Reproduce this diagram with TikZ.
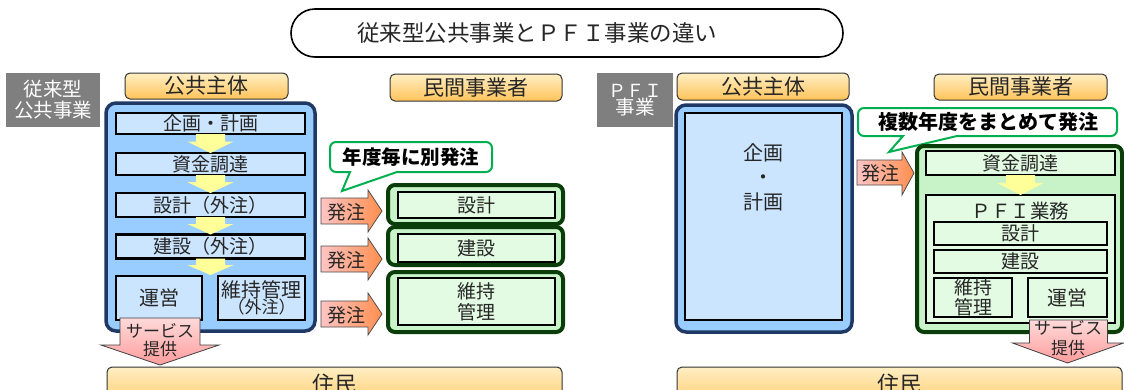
\documentclass[tikz,border=0pt]{standalone}
\usepackage{fontspec}
\setmainfont{Noto Sans CJK JP}
\usetikzlibrary{calc}
\definecolor{navy}{HTML}{1F3864}
\definecolor{bluefill}{HTML}{99CCFF}
\definecolor{boxblue}{HTML}{CCE5FF}
\definecolor{dkgreen}{HTML}{0B3D0B}
\definecolor{grfill}{HTML}{C8F2C8}
\definecolor{boxgreen}{HTML}{E3FBE3}
\definecolor{hdtop}{HTML}{FFEFC4}
\definecolor{hdbot}{HTML}{FFC35A}
\definecolor{graylab}{HTML}{7F7F7F}
\definecolor{callgreen}{HTML}{00B050}
\definecolor{arrowyel}{HTML}{FFFF99}
\definecolor{ordleft}{HTML}{FFC4C4}
\definecolor{ordright}{HTML}{FF8F4F}
\definecolor{svctop}{HTML}{FFDADA}
\definecolor{svcbot}{HTML}{FF9C9C}
\newcommand\fsz[2]{\fontsize{#1}{#2}\selectfont}
\tikzset{
  every node/.style={inner sep=0pt, outer sep=0pt, text=black!85},
  titlebox/.style={draw=black, line width=1.6pt, fill=white, rounded corners=24pt},
  hdrbox/.style={draw=black!80, line width=1pt, rounded corners=5pt, top color=hdtop, bottom color=hdbot},
  graybox/.style={fill=graylab, text=white, align=center},
  bluecont/.style={draw=navy, line width=3.5pt, fill=bluefill, rounded corners=10pt},
  bluebox/.style={draw=black, line width=2.2pt, fill=boxblue},
  greencont/.style={draw=dkgreen, line width=4pt, fill=grfill, rounded corners=7pt},
  greenbox/.style={draw=black, line width=2pt, fill=boxgreen},
  calloutline/.style={draw=callgreen, line width=2pt, fill=white},
  ordarrow/.style={draw=black!70, line width=0.8pt, left color=ordleft, right color=ordright},
  yarrow/.style={fill=arrowyel},
  svcarrow/.style={draw=black!75, line width=0.8pt, top color=svctop, bottom color=svcbot},
  barbox/.style={draw=black!80, line width=1pt, rounded corners=5pt, top color=hdtop, bottom color=hdbot},
}
\newcommand\ydown[2]{%
  \fill[yarrow] let \p1=(#1), \p2=(#2) in
    (\x1-14.5pt,\y1) -- (\x1+14.5pt,\y1) -- (\x1+14.5pt,{\y1+0.4*(\y2-\y1)})
    -- (\x1+23pt,{\y1+0.4*(\y2-\y1)}) -- (\x1,\y2) -- (\x1-23pt,{\y1+0.4*(\y2-\y1)})
    -- (\x1-14.5pt,{\y1+0.4*(\y2-\y1)}) -- cycle;}
\newcommand\ordL[2]{%
  \draw[ordarrow] (321,{#1-13}) -- (368,{#1-13}) -- (368,{#1-21}) -- (382,#1)
    -- (368,{#1+21}) -- (368,{#1+13}) -- (321,{#1+13}) -- cycle;
  \node[font=\fsz{19}{20}] (#2) at (346,{#1+1}) {発注};}
\begin{document}
\begin{tikzpicture}[x=1pt,y=-1pt]
\useasboundingbox (0,0) rectangle (1124,389);
\clip (0,0) rectangle (1124,389);
\fill[white] (0,0) rectangle (1124,389);

% title
\node[titlebox, minimum width=552pt, minimum height=48pt] (title) at (567,33) {};
\node[font=\fsz{22.5}{24}] (titlet) at (537,33) {従来型公共事業とＰＦＩ事業の違い};

% ---------------- left: conventional ----------------
\node[graybox, minimum width=94pt, minimum height=54pt, font=\fsz{19.5}{21}] (labL) at (53,100) {従来型\\公共事業};
\node[hdrbox, minimum width=163pt, minimum height=26pt, font=\fsz{21}{22}] (hdrL1) at (206.5,86) {公共主体};
\node[hdrbox, minimum width=172pt, minimum height=27pt, font=\fsz{21}{22}] (hdrL2) at (476,87.5) {民間事業者};

\node[bluecont, minimum width=209pt, minimum height=228pt] (contL) at (210.5,217) {};
\node[bluebox, minimum width=189pt, minimum height=21pt, font=\fsz{19}{20}] (bL1) at (210.5,123.5) {企画・計画};
\node[bluebox, minimum width=189pt, minimum height=22pt, font=\fsz{19}{20}] (bL2) at (210.5,164) {資金調達};
\node[bluebox, minimum width=189pt, minimum height=24pt, font=\fsz{19}{20}] (bL3) at (210.5,205) {設計（外注）};
\node[bluebox, minimum width=189pt, minimum height=24pt, font=\fsz{19}{20}] (bL4) at (210.5,246.5) {建設（外注）};
\coordinate (rowL) at (210.5,275);
\node[bluebox, minimum width=86pt, minimum height=44pt, font=\fsz{20}{21}] (bL5) at (159,298) {運営};
\node[bluebox, minimum width=87pt, minimum height=44pt, align=center] (bL6) at (261.5,298) {{\fsz{20}{22}維持管理}\\[-1pt]{\fsz{17}{20}（外注）}};

\ydown{bL1.south}{bL2.north}
\ydown{bL2.south}{bL3.north}
\ydown{bL3.south}{bL4.north}
\ydown{bL4.south}{rowL}

% green boxes (contractors)
\node[greencont, minimum width=175pt, minimum height=39pt] (gL1) at (475.5,204.5) {};
\node[greenbox, minimum width=157pt, minimum height=26pt, font=\fsz{19}{20}] (iL1) at (476.5,205) {設計};
\node[greencont, minimum width=175pt, minimum height=38pt] (gL2) at (475.5,246) {};
\node[greenbox, minimum width=157pt, minimum height=28pt, font=\fsz{19}{20}] (iL2) at (476.5,248) {建設};
\node[greencont, minimum width=175pt, minimum height=60pt] (gL3) at (475.5,302) {};
\node[greenbox, minimum width=157pt, minimum height=47pt, font=\fsz{19}{21}, align=center] (iL3) at (476.5,301.5) {維持\\管理};

% callout left
\draw[calloutline] [rounded corners=6pt] (330,142) -- (492,142) -- (492,172) [sharp corners] -- (397,172) -- (342,191) -- (350,172) [rounded corners=6pt] -- (330,172) -- cycle;
\node[font=\fsz{19.5}{20}\bfseries, text=black] (callL) at (411,157) {年度毎に別発注};

% order arrows left
\ordL{211}{ordL1}
\ordL{259}{ordL2}
\ordL{314}{ordL3}

% residents left
\node[barbox, minimum width=455pt, minimum height=46pt] (resL) at (334.5,390) {};
\node[font=\fsz{22}{24}] (resLt) at (334.5,384) {住民};

% service arrow left
\draw[svcarrow] let \p1=(bL5.south), \p2=(resL.north) in
  (\x1-39pt,\y1+2pt) -- (\x1+41pt,\y1+2pt) -- (\x1+41pt,\y1-25pt) -- (\x1+60pt,\y1-25pt)
  -- (\x1+1pt,\y2+2pt) -- (\x1-58pt,\y1-25pt) -- (\x1-39pt,\y1-25pt) -- cycle;
\node[font=\fsz{17}{18}, align=center] (svcL) at (160,340) {サービス\\提供};

% ---------------- right: PFI ----------------
\node[graybox, minimum width=76pt, minimum height=54pt] (labR) at (635,100) {{\fsz{18}{24}ＰＦＩ}\\{\fsz{19.5}{24}事業}};
\node[hdrbox, minimum width=172pt, minimum height=27pt, font=\fsz{21}{22}] (hdrR1) at (763,86.5) {公共主体};
\node[hdrbox, minimum width=173pt, minimum height=26pt, font=\fsz{21}{22}] (hdrR2) at (1020.5,87) {民間事業者};

\node[bluecont, minimum width=176pt, minimum height=227pt] (contR) at (764,218.5) {};
\node[bluebox, minimum width=157pt, minimum height=207pt] (bR0) at (763.5,216.5) {};
\node[font=\fsz{20}{24.5}, align=center] (planR) at (763,177) {企画\\・\\計画};

% callout right
\draw[calloutline] [rounded corners=6pt] (858,108) -- (1117,108) -- (1117,136) [sharp corners] -- (957,136) -- (889,152) -- (903,136) [rounded corners=6pt] -- (858,136) -- cycle;
\node[font=\fsz{20}{21}\bfseries, text=black] (callR) at (988,122) {複数年度をまとめて発注};

% order arrow right
\draw[ordarrow] (857,160) -- (902,160) -- (902,152) -- (914,173) -- (902,195) -- (902,185) -- (857,185) -- cycle;
\node[font=\fsz{19}{20}] (ordR) at (880,173) {発注};

% green container right
\node[greencont, minimum width=205pt, minimum height=186pt] (contG) at (1019.5,239) {};
\node[greenbox, minimum width=189pt, minimum height=24pt, font=\fsz{19}{20}] (bR1) at (1020.5,163) {資金調達};
\node[greenbox, minimum width=189pt, minimum height=128pt] (pfi) at (1020.5,259) {};
\ydown{bR1.south}{pfi.north}
\node[font=\fsz{19.5}{20}] (pfit) at (1020.5,211) {ＰＦＩ業務};
\node[greenbox, minimum width=173pt, minimum height=23pt, font=\fsz{19}{20}] (bR2) at (1020.5,233.5) {設計};
\node[greenbox, minimum width=173pt, minimum height=23pt, font=\fsz{19}{20}] (bR3) at (1020.5,261.5) {建設};
\node[greenbox, minimum width=78pt, minimum height=39pt, font=\fsz{19}{20}, align=center] (bR4) at (973,297.5) {維持\\管理};
\node[greenbox, minimum width=79pt, minimum height=39pt, font=\fsz{20}{21}] (bR5) at (1067.5,297.5) {運営};

% residents right
\node[barbox, minimum width=445pt, minimum height=46pt] (resR) at (899.5,390) {};
\node[font=\fsz{22}{24}] (resRt) at (899.5,384) {住民};

% service arrow right
\draw[svcarrow] let \p1=(bR5.south), \p2=(resR.north) in
  (\x1-38pt,\y1-3pt) -- (\x1+40pt,\y1-3pt) -- (\x1+40pt,\y1-26pt) -- (\x1+56pt,\y1-26pt)
  -- (\x1,\y2+4pt) -- (\x1-55pt,\y1-26pt) -- (\x1-38pt,\y1-26pt) -- cycle;
\node[font=\fsz{17}{20}, align=center] (svcR) at (1068,338) {サービス\\提供};
\end{tikzpicture}
\end{document}
